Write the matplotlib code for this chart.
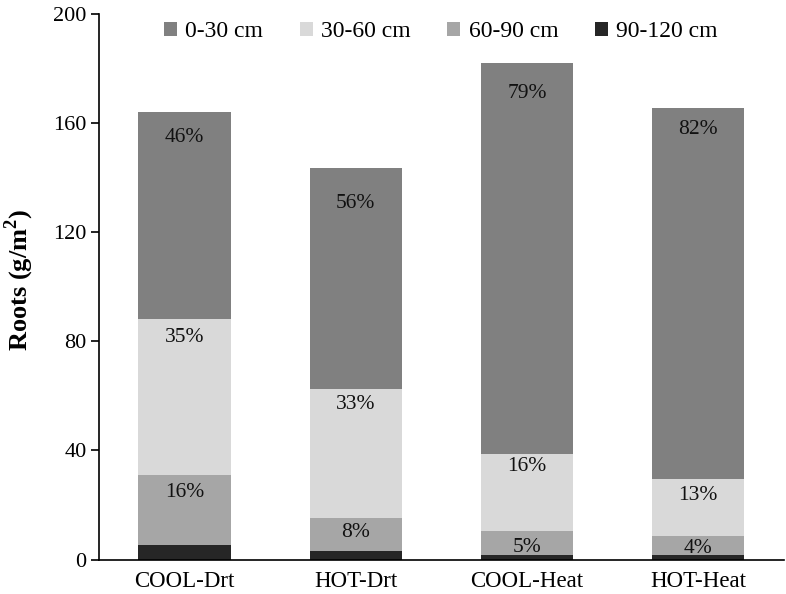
import matplotlib

matplotlib.use("Agg")
import matplotlib.pyplot as plt
import numpy as np

# ---------------------------------------------------------------------------
# Data (g/m2 per soil depth layer)
# ---------------------------------------------------------------------------
treatments = ["COOL-Drt", "HOT-Drt", "COOL-Heat", "HOT-Heat"]
layers = ["0-30 cm", "30-60 cm", "60-90 cm", "90-120 cm"]

roots_0_30 = [76.0, 81.1, 143.3, 136.3]
roots_30_60 = [57.2, 47.2, 28.4, 20.9]
roots_60_90 = [25.7, 12.1, 8.9, 7.1]
roots_90_120 = [5.3, 3.2, 1.5, 1.5]

pct_0_30 = ["46%", "56%", "79%", "82%"]
pct_30_60 = ["35%", "33%", "16%", "13%"]
pct_60_90 = ["16%", "8%", "5%", "4%"]

COLORS = {
    "0-30 cm": "#808080",
    "30-60 cm": "#d9d9d9",
    "60-90 cm": "#a6a6a6",
    "90-120 cm": "#262626",
}

# label drop below segment top, in pixels
DROP = {
    "0-30 cm": [26, 35, 30, 22],
    "30-60 cm": [18, 15, 13, 16],
    "60-90 cm": [17, 15, 16, 12],
}

plt.rcParams["font.family"] = ["Liberation Serif", "DejaVu Serif"]

fig = plt.figure(figsize=(7.86, 5.94), dpi=100)
ax = fig.add_axes([0.126, 0.058, 0.871, 0.918])

x = np.arange(len(treatments))
width = 0.54

stack = [
    ("90-120 cm", roots_90_120, None),
    ("60-90 cm", roots_60_90, pct_60_90),
    ("30-60 cm", roots_30_60, pct_30_60),
    ("0-30 cm", roots_0_30, pct_0_30),
]

bottom = np.zeros(len(treatments))
handles = {}
for name, vals, pcts in stack:
    vals = np.asarray(vals)
    bars = ax.bar(x, vals, width, bottom=bottom, color=COLORS[name], label=name, zorder=2)
    handles[name] = bars
    if pcts is not None:
        for xi, top, txt, drop in zip(x, bottom + vals, pcts, DROP[name]):
            ax.annotate(
                txt,
                (xi, top),
                xytext=(0, -drop * 0.72),
                textcoords="offset points",
                ha="center",
                va="center",
                fontsize=15.5,
                color="#111111",
            )
    bottom = bottom + vals

ax.set_xlim(-0.5, 3.5)
ax.set_ylim(0, 200)
ax.set_yticks([0, 40, 80, 120, 160, 200])
ax.set_xticks(x)
ax.set_xticklabels(treatments)
ax.tick_params(axis="y", labelsize=16, length=6, width=1.2, direction="out", pad=3)
ax.tick_params(axis="x", labelsize=16.5, length=0, pad=8)

for side in ["top", "right"]:
    ax.spines[side].set_visible(False)
ax.spines["left"].set_linewidth(1.2)
ax.spines["bottom"].set_linewidth(1.2)

ax.set_ylabel("Roots (g/m$^\\mathregular{2}$)", fontsize=19, fontweight="bold")
ax.yaxis.set_label_coords(-0.092, 0.512)

fig.legend(
    [handles[n] for n in layers],
    layers,
    loc="center",
    bbox_to_anchor=(0.561, 0.947),
    ncol=4,
    frameon=False,
    fontsize=17,
    handlelength=0.55,
    handleheight=0.55,
    handletextpad=0.35,
    columnspacing=1.55,
)

fig.savefig("out.png", dpi=100)
